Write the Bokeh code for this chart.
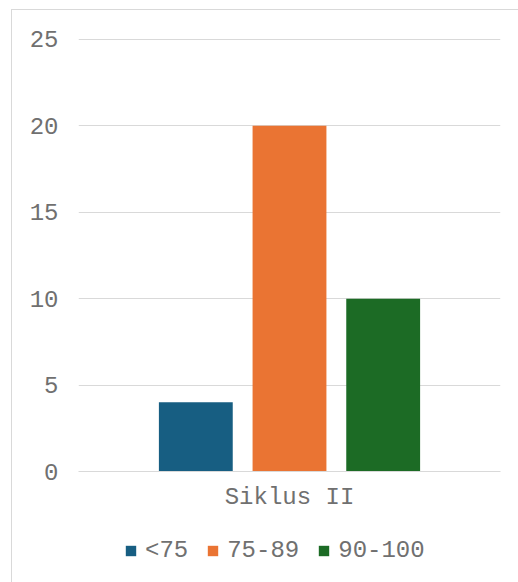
from bokeh.plotting import figure
from bokeh.layouts import column
from bokeh.models import FactorRange, Range1d, ColumnDataSource, FixedTicker, Legend, LegendItem
from bokeh.transform import dodge
from bokeh.embed import file_html
from bokeh.resources import INLINE

group = ["Siklus II"]
categories = ["<75", "75-89", "90-100"]
values = [4, 20, 10]
colors = ["#175e82", "#ea7433", "#1c6b25"]
y_ticks = [0, 5, 10, 15, 20, 25]

FONT = "Liberation Mono"
TXT = "#707070"
GRID = "#d9d9d9"

p = figure(width=506, height=510, x_range=FactorRange(factors=group, range_padding=0),
           y_range=Range1d(0, 25.05), output_backend="svg", toolbar_location=None)
p.min_border_left = 66
p.min_border_right = 18
p.min_border_top = 28
p.min_border_bottom = 49
p.outline_line_color = None

step = 0.222
bw = 0.175
for i, (cat, val, col) in enumerate(zip(categories, values, colors)):
    src = ColumnDataSource(dict(x=group, top=[val]))
    p.vbar(x=dodge("x", (i - 1) * step, range=p.x_range), top="top", width=bw,
           source=src, fill_color=col, line_color=None)

p.xgrid.grid_line_color = None
p.ygrid.grid_line_color = GRID
p.ygrid.grid_line_width = 1
p.yaxis.ticker = FixedTicker(ticks=y_ticks)
p.yaxis.axis_line_color = None
p.yaxis.major_tick_line_color = None
p.yaxis.minor_tick_line_color = None
p.yaxis.major_label_standoff = 14
p.yaxis.major_label_text_font = FONT
p.yaxis.major_label_text_font_size = "24px"
p.yaxis.major_label_text_color = TXT

p.xaxis.axis_line_color = GRID
p.xaxis.major_tick_line_color = None
p.xaxis.minor_tick_line_color = None
p.xaxis.major_label_standoff = 6
p.xaxis.major_label_text_font = FONT
p.xaxis.major_label_text_font_size = "24px"
p.xaxis.major_label_text_color = TXT

# legend strip: same bars, kept out of view, used only as legend glyphs
lg = figure(width=506, height=62, x_range=FactorRange(factors=group, range_padding=0),
            y_range=Range1d(100, 101), output_backend="svg", toolbar_location=None,
            min_border=0)
lg.axis.visible = False
lg.grid.visible = False
lg.outline_line_color = None
items = []
for i, (cat, val, col) in enumerate(zip(categories, values, colors)):
    src = ColumnDataSource(dict(x=group, top=[val]))
    r = lg.vbar(x=dodge("x", (i - 1) * step, range=lg.x_range), top="top", width=bw,
                source=src, fill_color=col, line_color=None)
    items.append(LegendItem(label=cat, renderers=[r]))

leg = Legend(items=items, orientation="horizontal", location=(46, 18))
leg.label_text_font = FONT
leg.label_text_font_size = "24px"
leg.label_text_color = TXT
leg.glyph_width = 13
leg.glyph_height = 13
leg.label_standoff = 8
leg.spacing = 18
leg.border_line_color = None
leg.background_fill_alpha = 0
leg.padding = 0
leg.margin = 0
lg.add_layout(leg, "center")

layout = column(p, lg, spacing=0)
layout.styles = {"border": "1px solid #d9d9d9", "margin": "9px 0px 0px 11px"}

open("out.html", "w").write(file_html(layout, INLINE))
